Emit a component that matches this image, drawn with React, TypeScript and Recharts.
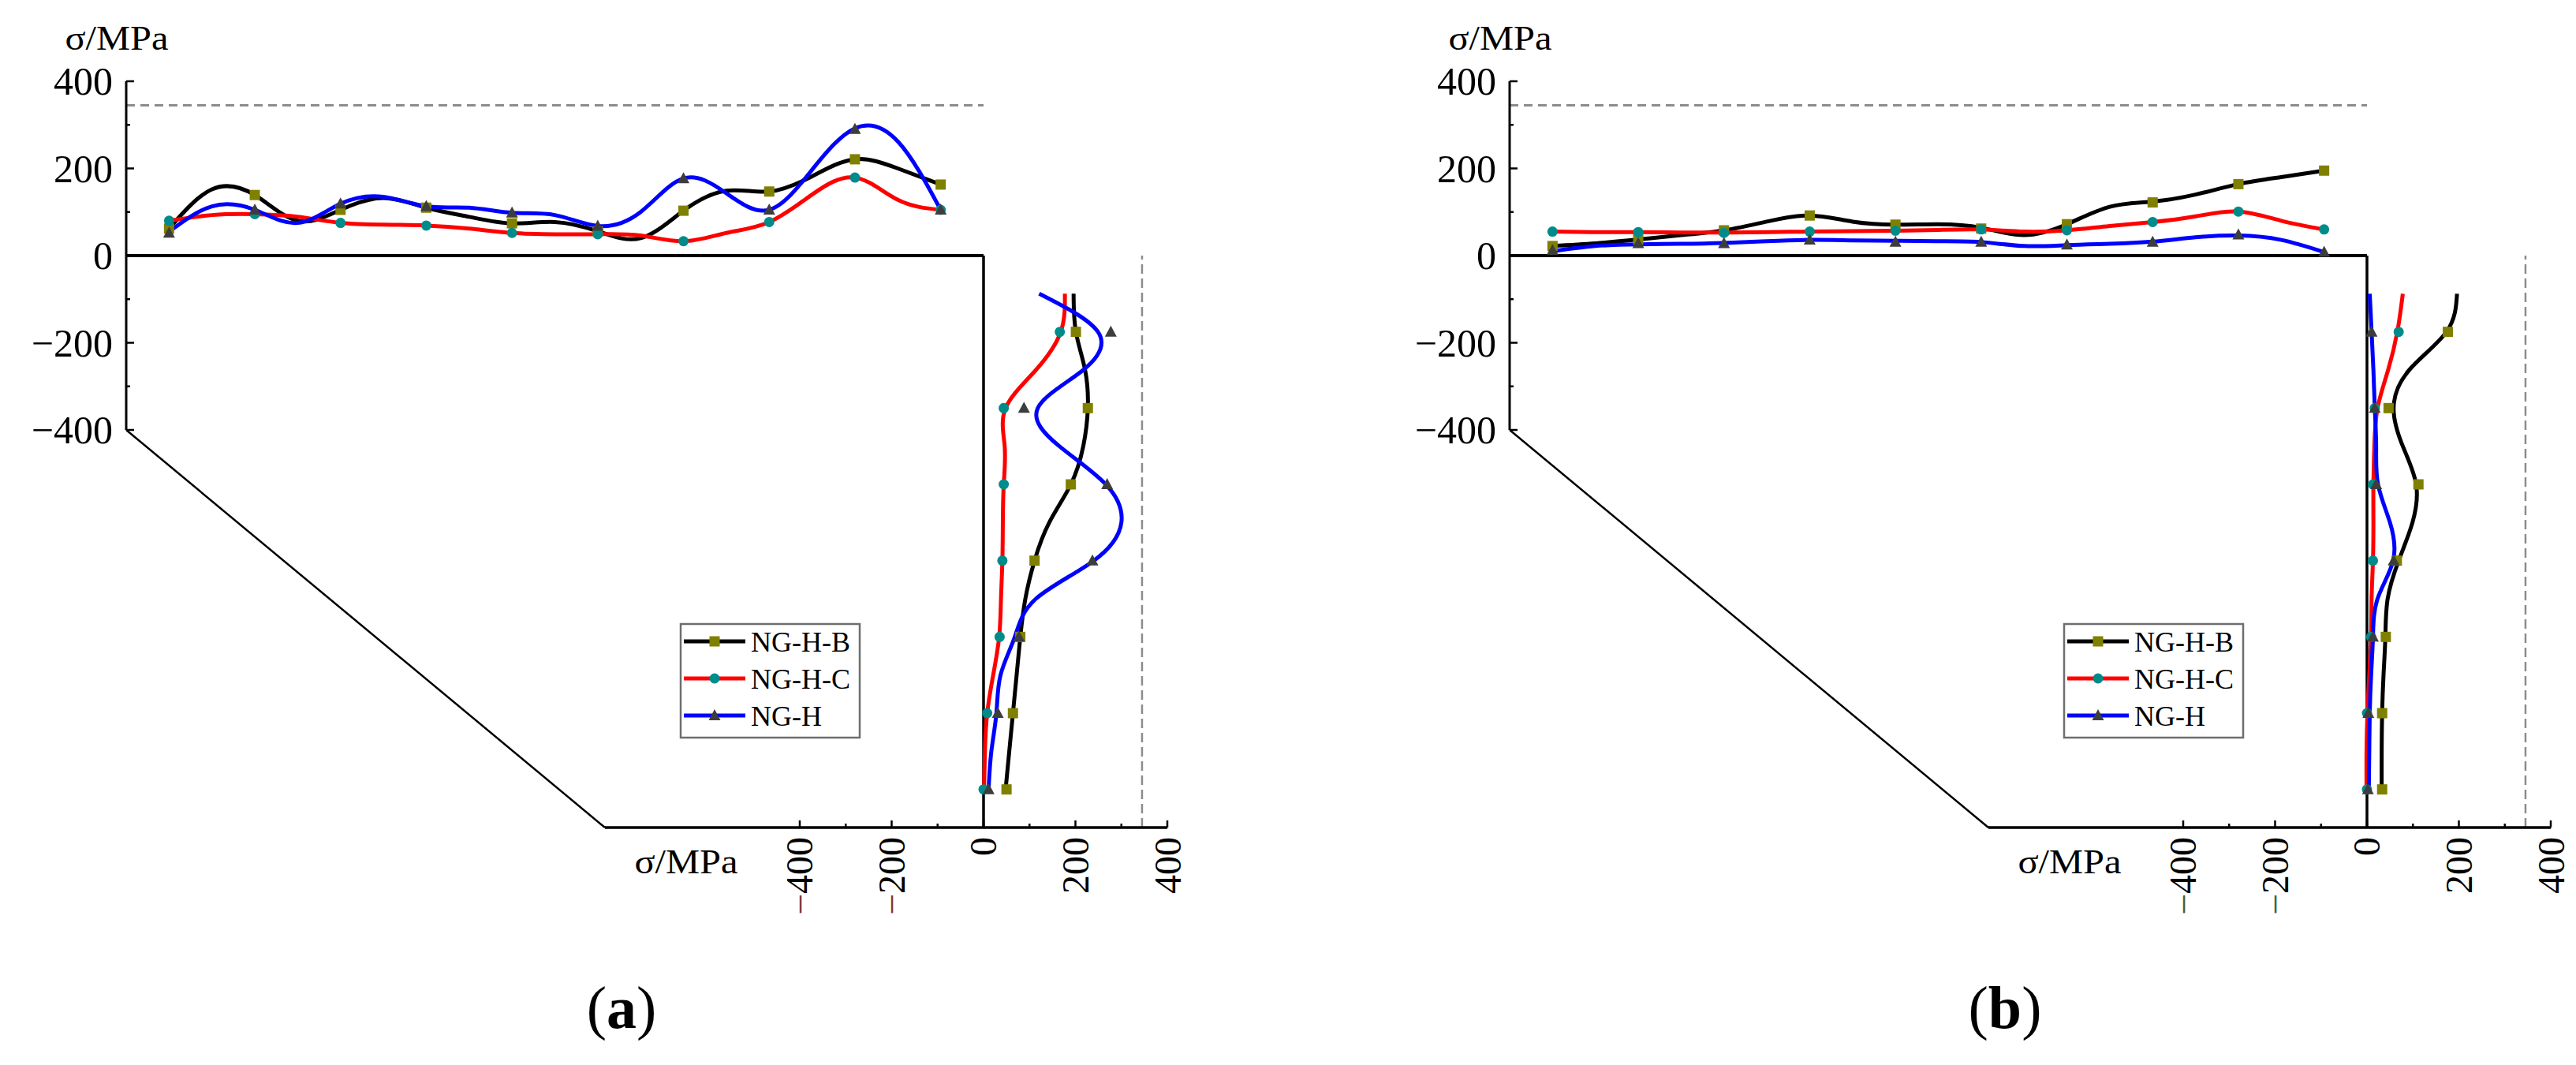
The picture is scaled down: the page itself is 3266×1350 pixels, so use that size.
import React from "react";
import { ComposedChart, Line, Scatter, XAxis, YAxis, ReferenceLine } from "recharts";

const SERIF = "'Liberation Serif', 'Times New Roman', Times, serif";

const seriesNames = ["NG-H-B", "NG-H-C", "NG-H"];
const lineColors = ["#000000", "#ff0000", "#0000ff"];
const markerKinds = ["square", "circle", "triangle"];

const yieldStress = 345;

// measuring points along the top face (markers) and where the curves were read
const topMarkerX = [0.5, 1.5, 2.5, 3.5, 4.5, 5.5, 6.5, 7.5, 8.5, 9.5];
const topCurveX = [0.5, 1, 1.5, 2, 2.5, 3, 3.5, 4, 4.5, 5, 5.5, 6, 6.5, 7, 7.5, 8, 8.5, 9, 9.5];
// measuring points down the side face (0 = top corner)
const sideMarkerPos = [1, 2, 3, 4, 5, 6, 7];
const sideCurvePos = [0.5, 1, 1.5, 2, 2.5, 3, 3.5, 4, 4.5, 5, 5.5, 6, 6.5, 7];

const leftTicks = [-400, -300, -200, -100, 0, 100, 200, 300, 400];
const bottomTicks = [-400, -300, -200, -100, 0, 100, 200, 300, 400];

// (a) top face
const aTopB = [62, 139, 105, 110, 74, 56, 103, 147, 221, 163];
const aTopC = [80, 95, 75, 69, 52, 49, 33, 77, 179, 105];
const aTopH = [52, 105, 119, 113, 98, 68, 177, 105, 290, 105];
const aTopBCurve = [62, 152, 139, 80, 105, 132, 110, 89, 74, 77, 56, 40, 103, 149, 147, 182, 221, 200, 163];
const aTopCCurve = [80, 93, 95, 89, 75, 71, 69, 62, 52, 49, 49, 46, 33, 52, 77, 140, 179, 128, 105];
const aTopHCurve = [55, 113, 105, 75, 119, 135, 113, 110, 98, 93, 68, 100, 177, 143, 105, 197, 292, 262, 105];

// (a) side face
const aSideB = [201, 227, 190, 111, 80, 64, 50];
const aSideC = [166, 44, 44, 41, 35, 8, 0];
const aSideH = [277, 88, 269, 237, 77, 31, 11];
const aSideBCurve = [196, 201, 221, 227, 217, 190, 143, 111, 91, 80, 72, 64, 56, 48];
const aSideCCurve = [177, 168, 114, 48, 46, 44, 42, 41, 38, 34, 21, 8, 3, 1];
const aSideHCurve = [121, 249, 217, 118, 165, 266, 300, 240, 114, 68, 37, 28, 17, 11];

// (b) top face
const bTopB = [22, 37, 58, 92, 71, 62, 72, 122, 164, 195];
const bTopC = [55, 54, 52, 55, 57, 60, 58, 77, 101, 60];
const bTopH = [12, 28, 28, 36, 31, 31, 25, 31, 48, 8];
const bTopBCurve = [22, 28, 37, 47, 58, 78, 92, 78, 71, 72, 64, 47, 72, 112, 124, 140, 164, 180, 195];
const bTopCCurve = [55, 54, 54, 53, 53, 54, 55, 56, 57, 59, 60, 55, 58, 68, 77, 90, 101, 80, 60];
const bTopHCurve = [10, 22, 26, 27, 29, 33, 36, 35, 34, 33, 31, 22, 24, 27, 32, 42, 46, 36, 8];

// (b) side face
const bSideB = [176, 47, 112, 65, 41, 33, 33];
const bSideC = [69, 17, 13, 13, 9, 0, 0];
const bSideH = [10, 17, 20, 58, 13, 3, 2];
const bSideBCurve = [196, 173, 92, 58, 78, 107, 99, 69, 45, 40, 36, 33, 32, 32];
const bSideCCurve = [78, 66, 46, 23, 16, 14, 14, 13, 10, 9, 5, 1, -1, -1];
const bSideHCurve = [6, 10, 14, 17, 20, 24, 50, 57, 23, 13, 9, 6, 5, 4];

const toTop = (vals: number[], xs: number[]) => vals.map((v, i) => ({ x: xs[i], v }));
const toSide = (vals: number[], ps: number[]) => vals.map((v, i) => ({ pos: ps[i], v }));

function Marker({ kind, cx, cy }: { kind: string; cx: number; cy: number }) {
  if (kind === "square") return <rect x={cx - 6.5} y={cy - 6.5} width={13} height={13} fill="#808000" />;
  if (kind === "circle") return <circle cx={cx} cy={cy} r={6.5} fill="#008b8b" />;
  return <polygon points={`${cx},${cy - 8} ${cx - 7.5},${cy + 6} ${cx + 7.5},${cy + 6}`} fill="#3d3d3d" />;
}

function LeftTick(props: any) {
  const { x, y, payload } = props;
  const v = payload.value as number;
  const axisX = x + 17;
  const major = v % 200 === 0;
  return (
    <g>
      <line x1={axisX} x2={axisX + (major ? 10 : 5)} y1={y} y2={y} stroke="#000" strokeWidth={2.5} />
      {major && (
        <text
          x={x}
          y={y}
          textAnchor="end"
          dominantBaseline="central"
          fontSize={50}
          fill="#000"
          fontFamily={SERIF}
          style={{ fontFamily: SERIF }}
        >
          {v < 0 ? `−${-v}` : v}
        </text>
      )}
    </g>
  );
}

function BottomTick(props: any) {
  const { x, y, payload, minusColor } = props;
  const v = payload.value as number;
  const axisY = y - 10;
  const major = v % 200 === 0;
  return (
    <g>
      <line x1={x} x2={x} y1={axisY} y2={axisY - (major ? 9 : 5)} stroke="#000" strokeWidth={2.5} />
      {major && (
        <text
          transform={`translate(${x},${axisY + 12}) rotate(-90)`}
          textAnchor="end"
          dominantBaseline="central"
          fontSize={48}
          fill="#000"
          fontFamily={SERIF}
          style={{ fontFamily: SERIF }}
        >
          {v < 0 && <tspan fill={minusColor}>−</tspan>}
          {Math.abs(v)}
        </text>
      )}
    </g>
  );
}

type PanelProps = {
  ox: number;
  topMarkers: number[][];
  topCurves: number[][];
  sideMarkers: number[][];
  sideCurves: number[][];
  minusColor: string;
};

function Panel({ ox, topMarkers, topCurves, sideMarkers, sideCurves, minusColor }: PanelProps) {
  return (
    <>
      {/* side face: stress plotted to the right of the vertical edge */}
      <div style={{ position: "absolute", left: ox, top: 0 }}>
        <ComposedChart
          layout="vertical"
          width={1560}
          height={1200}
          margin={{ top: 324, right: 80, bottom: 11, left: 767 }}
        >
          <XAxis
            type="number"
            domain={[-824, 400]}
            allowDataOverflow
            ticks={bottomTicks}
            interval={0}
            tickSize={0}
            tickMargin={10}
            height={140}
            axisLine={{ stroke: "#000", strokeWidth: 3.5 }}
            tickLine={false}
            tick={(p: any) => <BottomTick {...p} minusColor={minusColor} />}
          />
          <YAxis type="number" dataKey="pos" domain={[0, 7.5]} hide width={0} allowDataOverflow />
          <ReferenceLine
            segment={[
              { x: -1866, y: 2.286 },
              { x: -824, y: 7.5 },
            ]}
            stroke="#000"
            strokeWidth={2.5}
            ifOverflow="visible"
          />
          <ReferenceLine x={yieldStress} stroke="#8c8c8c" strokeWidth={2.5} strokeDasharray="12 6" />
          <ReferenceLine x={0} stroke="#000" strokeWidth={3.5} />
          {sideCurves.map((vals, i) => (
            <Line
              key={`sc${i}`}
              data={toSide(vals, sideCurvePos)}
              dataKey="v"
              type="natural"
              stroke={lineColors[i]}
              strokeWidth={5}
              dot={false}
              activeDot={false}
              isAnimationActive={false}
            />
          ))}
          {sideMarkers.map((vals, i) => (
            <Scatter
              key={`sm${i}`}
              data={toSide(vals, sideMarkerPos)}
              dataKey="v"
              isAnimationActive={false}
              shape={(p: any) => <Marker kind={markerKinds[i]} cx={p.cx} cy={p.cy} />}
            />
          ))}
        </ComposedChart>
      </div>

      {/* top face */}
      <div style={{ position: "absolute", left: ox, top: 0 }}>
        <ComposedChart width={1300} height={600} margin={{ top: 103, right: 53, bottom: 55, left: 60 }}>
          <XAxis type="number" dataKey="x" domain={[0, 10]} hide height={0} allowDataOverflow />
          <YAxis
            type="number"
            domain={[-400, 400]}
            ticks={leftTicks}
            interval={0}
            width={100}
            tickSize={0}
            tickMargin={17}
            tickLine={false}
            axisLine={{ stroke: "#000", strokeWidth: 3 }}
            tick={LeftTick}
            allowDataOverflow
          />
          <ReferenceLine y={yieldStress} stroke="#8c8c8c" strokeWidth={3} strokeDasharray="11 7" />
          <ReferenceLine y={0} stroke="#000" strokeWidth={4} />
          {topCurves.map((vals, i) => (
            <Line
              key={`tc${i}`}
              data={toTop(vals, topCurveX)}
              dataKey="v"
              type="natural"
              stroke={lineColors[i]}
              strokeWidth={5}
              dot={false}
              activeDot={false}
              isAnimationActive={false}
            />
          ))}
          {topMarkers.map((vals, i) => (
            <Scatter
              key={`tm${i}`}
              data={toTop(vals, topMarkerX)}
              dataKey="v"
              isAnimationActive={false}
              shape={(p: any) => <Marker kind={markerKinds[i]} cx={p.cx} cy={p.cy} />}
            />
          ))}
        </ComposedChart>
      </div>
    </>
  );
}

function Labels({ ox, tag }: { ox: number; tag: string }) {
  return (
    <g style={{ fontFamily: SERIF }}>
      <text x={ox + 148} y={63} textAnchor="middle" fontSize={44} textLength={131} lengthAdjust="spacingAndGlyphs">
        σ/MPa
      </text>
      <text x={ox + 870} y={1107} textAnchor="middle" fontSize={44} textLength={131} lengthAdjust="spacingAndGlyphs">
        σ/MPa
      </text>
      <text x={ox + 788} y={1303} textAnchor="middle" fontSize={76}>
        (<tspan fontWeight="bold">{tag}</tspan>)
      </text>
      <g transform={`translate(${ox + 863},791)`}>
        <rect x={0} y={0} width={227} height={144} fill="#fff" stroke="#6e6e6e" strokeWidth={2.5} />
        {seriesNames.map((n, i) => {
          const cy = 22 + i * 47;
          return (
            <g key={n}>
              <line x1={4} x2={82} y1={cy} y2={cy} stroke={lineColors[i]} strokeWidth={5} />
              <Marker kind={markerKinds[i]} cx={43} cy={cy} />
              <text x={89} y={cy + 13} fontSize={36} fill="#000">
                {n}
              </text>
            </g>
          );
        })}
      </g>
    </g>
  );
}

export default function App() {
  const offB = 1754;
  return (
    <div style={{ position: "absolute", left: 0, top: 0, width: 3266, height: 1350, background: "#fff", overflow: "hidden" }}>
      <Panel
        ox={0}
        topMarkers={[aTopB, aTopC, aTopH]}
        topCurves={[aTopBCurve, aTopCCurve, aTopHCurve]}
        sideMarkers={[aSideB, aSideC, aSideH]}
        sideCurves={[aSideBCurve, aSideCCurve, aSideHCurve]}
        minusColor="#7a3a3a"
      />
      <Panel
        ox={offB}
        topMarkers={[bTopB, bTopC, bTopH]}
        topCurves={[bTopBCurve, bTopCCurve, bTopHCurve]}
        sideMarkers={[bSideB, bSideC, bSideH]}
        sideCurves={[bSideBCurve, bSideCCurve, bSideHCurve]}
        minusColor="#3a5e3a"
      />
      <svg width={3266} height={1350} style={{ position: "absolute", left: 0, top: 0, pointerEvents: "none" }}>
        <Labels ox={0} tag="a" />
        <Labels ox={offB} tag="b" />
      </svg>
    </div>
  );
}
